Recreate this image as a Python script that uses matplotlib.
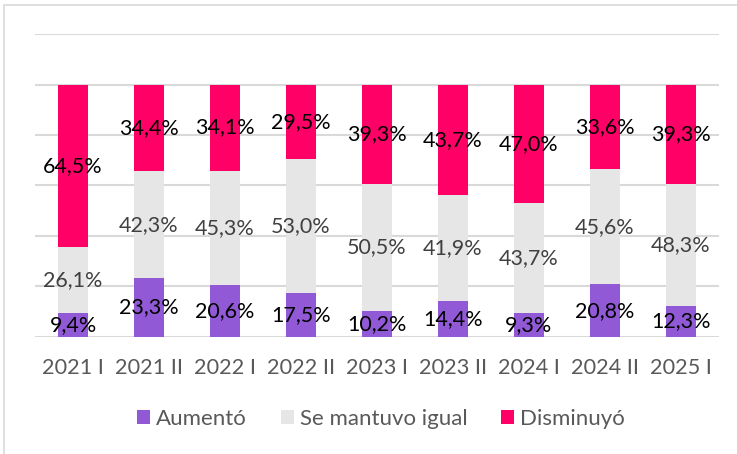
import matplotlib.pyplot as plt
import numpy as np
from matplotlib.patches import Rectangle

plt.rcParams["font.family"] = ["Lato", "DejaVu Sans"]

categories = ["2021 I", "2021 II", "2022 I", "2022 II", "2023 I", "2023 II", "2024 I", "2024 II", "2025 I"]
aumento = [9.4, 23.3, 20.6, 17.5, 10.2, 14.4, 9.3, 20.8, 12.3]
igual = [26.1, 42.3, 45.3, 53.0, 50.5, 41.9, 43.7, 45.6, 48.3]
disminuyo = [64.5, 34.4, 34.1, 29.5, 39.3, 43.7, 47.0, 33.6, 39.3]

series = [
    ("Aumentó", aumento, "#9159D6", "black"),
    ("Se mantuvo igual", igual, "#E6E6E6", "#404040"),
    ("Disminuyó", disminuyo, "#FF0066", "black"),
]


def main():
    fig = plt.figure(figsize=(7.37, 4.54), dpi=100)
    ax = fig.add_axes([0.0475, 0.258, 0.928, 0.667])

    # borde del recuadro del grafico
    fig.patches.append(Rectangle((4 / 737, -0.1), 1.2, 1.1 - 5 / 454, transform=fig.transFigure,
                                 fill=False, edgecolor="#D9D9D9", linewidth=1.2))

    x = np.arange(len(categories))
    bottom = np.zeros(len(categories))
    for name, vals, color, txtcolor in series:
        vals = np.array(vals) / 100.0
        ax.bar(x, vals, width=0.4, bottom=bottom, color=color, label=name, zorder=2)
        for xi, b, v in zip(x, bottom, vals):
            ax.text(xi, b + v / 2, f"{v * 100:.1f}%".replace(".", ","), ha="center", va="center",
                    fontsize=15.5, color=txtcolor, zorder=3)
        bottom += vals

    ax.set_xlim(-0.5, len(categories) - 0.5)
    ax.set_ylim(0, 1.2)
    ax.set_yticks(np.arange(0, 1.21, 0.2))
    ax.yaxis.grid(True, color="#D9D9D9", linewidth=1.5, zorder=0)
    ax.set_axisbelow(True)
    ax.tick_params(axis="y", left=False, labelleft=False)
    ax.tick_params(axis="x", length=0, pad=15.5, labelsize=15.6, labelcolor="#595959")
    ax.set_xticks(x)
    ax.set_xticklabels(categories)
    for s in ax.spines.values():
        s.set_visible(False)

    fig.legend(loc="center", bbox_to_anchor=(381 / 737, 1 - 419 / 454), ncol=3, frameon=False,
               fontsize=16, labelcolor="#595959", handlelength=0.6, handleheight=0.6,
               handletextpad=0.27, columnspacing=1.5)

    fig.savefig("out.png", dpi=100)


if __name__ == "__main__":
    main()
